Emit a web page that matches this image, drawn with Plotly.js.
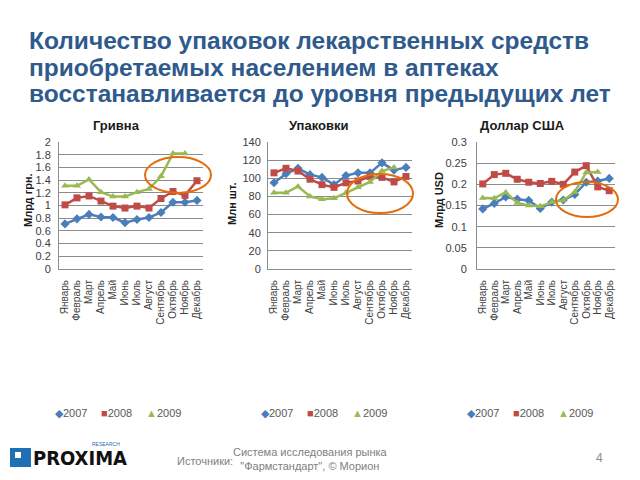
<!DOCTYPE html>
<html>
<head>
<meta charset="utf-8">
<script src="https://cdn.plot.ly/plotly-3.0.1.min.js"></script>
<style>
  html, body { margin: 0; padding: 0; background: #fff; }
  #chart { width: 640px; height: 480px; }
</style>
</head>
<body>
<div id="chart"></div>
<script>
// months and series
const months = ['Январь', 'Февраль', 'Март', 'Апрель', 'Май', 'Июнь', 'Июль', 'Август', 'Сентябрь', 'Октябрь', 'Ноябрь', 'Декабрь'];
const years = ['2007', '2008', '2009'];

// Гривна, млрд грн.
const uah2007 = [0.71, 0.79, 0.86, 0.82, 0.81, 0.73, 0.78, 0.81, 0.89, 1.05, 1.05, 1.08];
const uah2008 = [1.01, 1.12, 1.15, 1.07, 0.99, 0.96, 0.99, 0.96, 1.11, 1.22, 1.16, 1.39];
const uah2009 = [1.31, 1.31, 1.41, 1.21, 1.14, 1.14, 1.21, 1.26, 1.46, 1.82, 1.82];

// Упаковки, млн шт.
const pack2007 = [95, 105, 111, 104, 101, 93, 103, 106, 106, 117, 109, 112];
const pack2008 = [106, 111, 108, 99, 93, 90, 95, 97, 102, 101, 96, 102];
const pack2009 = [84, 84, 91, 80, 77, 78, 84, 90, 96, 108, 112];

// Доллар США, млрд USD
const usd2007 = [0.142, 0.155, 0.170, 0.165, 0.162, 0.143, 0.158, 0.163, 0.176, 0.205, 0.208, 0.214];
const usd2008 = [0.201, 0.223, 0.226, 0.212, 0.205, 0.202, 0.207, 0.200, 0.229, 0.244, 0.194, 0.185];
const usd2009 = [0.168, 0.167, 0.181, 0.156, 0.150, 0.148, 0.158, 0.162, 0.182, 0.228, 0.229];

const titleLines = [
    'Количество упаковок лекарственных средств',
    'приобретаемых населением в аптеках',
    'восстанавливается до уровня предыдущих лет'
];

const colors = ['#4a7ebb', '#be4b48', '#98b954'];
const symbols = ['diamond', 'square', 'triangle-up'];
const legendGlyphs = ['◆', '■', '▲'];

const W = 640, H = 480;
const px = x => x / W;
const py = y => 1 - y / H;

const panels = [
    {title: 'Гривна', ytitle: 'Млрд грн.', series: [uah2007, uah2008, uah2009], range: [0, 2], dtick: 0.2,
     left: 59, right: 203, titleX: 116, ytitleX: 28, ytitleY: 200, legendX: 53, standoff: 5,
     ellipse: [145, 157, 211, 193]},
    {title: 'Упаковки', ytitle: 'Млн шт.', series: [pack2007, pack2008, pack2009], range: [0, 140], dtick: 20,
     left: 268, right: 412, titleX: 318, ytitleX: 232, ytitleY: 204, legendX: 259, standoff: 4,
     ellipse: [347, 174, 413, 213]},
    {title: 'Доллар США', ytitle: 'Млрд USD', series: [usd2007, usd2008, usd2009], range: [0, 0.3], dtick: 0.05,
     left: 477, right: 615, titleX: 522, ytitleX: 439, ytitleY: 200, legendX: 465, standoff: 7,
     ellipse: [556, 182, 618, 217]}
];

const plotTop = 142, plotBottom = 269;
const baseFont = 'Liberation Sans, Arial, sans-serif';

let data = [];
let layout = {
    width: W,
    height: H,
    margin: {l: 0, r: 0, t: 0, b: 0},
    paper_bgcolor: '#ffffff',
    plot_bgcolor: '#ffffff',
    showlegend: false,
    font: {family: baseFont, size: 11, color: '#404040'},
    annotations: [],
    shapes: []
};

panels.forEach((p, k) => {
    const sfx = k === 0 ? '' : String(k + 1);
    p.series.forEach((vals, j) => {
        data.push({
            x: months.slice(0, vals.length),
            y: vals,
            xaxis: 'x' + sfx,
            yaxis: 'y' + sfx,
            name: years[j],
            mode: 'lines+markers',
            line: {color: colors[j], width: 2.5},
            marker: {symbol: symbols[j], size: 7, color: colors[j]},
            hoverinfo: 'skip'
        });
    });

    layout['xaxis' + sfx] = {
        domain: [px(p.left), px(p.right)],
        anchor: 'y' + sfx,
        type: 'category',
        categoryarray: months,
        range: [-0.5, 11.5],
        tickmode: 'array',
        tickvals: months,
        ticktext: months,
        tickangle: -90,
        tickfont: {size: 10, color: '#404040'},
        showgrid: false,
        showline: true,
        linecolor: '#8c8c8c',
        linewidth: 1,
        ticks: '',
        ticklabelstandoff: 6,
        fixedrange: true
    };
    layout['yaxis' + sfx] = {
        domain: [py(plotBottom), py(plotTop)],
        anchor: 'x' + sfx,
        range: p.range,
        dtick: p.dtick,
        tick0: 0,
        gridcolor: '#8c8c8c',
        gridwidth: 1,
        showline: true,
        linecolor: '#8c8c8c',
        zeroline: false,
        ticks: '',
        tickfont: {size: 11, color: '#404040'},
        ticklabelstandoff: p.standoff,
        fixedrange: true
    };

    // panel title
    layout.annotations.push({
        text: '<b>' + p.title + '</b>', xref: 'paper', yref: 'paper',
        x: px(p.titleX), y: py(125), xanchor: 'center', yanchor: 'middle',
        showarrow: false, font: {size: 13, color: '#1a1a1a'}
    });
    // y axis title
    layout.annotations.push({
        text: '<b>' + p.ytitle + '</b>', xref: 'paper', yref: 'paper',
        x: px(p.ytitleX), y: py(p.ytitleY), xanchor: 'center', yanchor: 'middle',
        textangle: -90, showarrow: false, font: {size: 11, color: '#1a1a1a'}
    });
    // legend
    years.forEach((yr, j) => {
        layout.annotations.push({
            text: '<span style="color:' + colors[j] + '">' + legendGlyphs[j] + '</span>' + yr,
            xref: 'paper', yref: 'paper',
            x: px(p.legendX + j * 45.5), y: py(413), xanchor: 'left', yanchor: 'middle',
            showarrow: false, font: {size: 11, color: '#595959'}
        });
    });
    // orange highlight ellipse
    const e = p.ellipse;
    layout.shapes.push({
        type: 'circle', xref: 'paper', yref: 'paper',
        x0: px(e[0]), x1: px(e[2]), y0: py(e[3]), y1: py(e[1]),
        line: {color: '#e46c0a', width: 2}
    });
});

// slide title
titleLines.forEach((line, i) => {
    layout.annotations.push({
        text: '<b>' + line + '</b>', xref: 'paper', yref: 'paper',
        x: px(27), y: py(40 + i * 27), xanchor: 'left', yanchor: 'middle',
        showarrow: false, font: {size: 24.5, color: '#2f5a8c', family: baseFont}
    });
});

// footer
layout.annotations.push(
    {text: 'Источники:', xref: 'paper', yref: 'paper', x: px(175), y: py(461),
     xanchor: 'left', yanchor: 'middle', showarrow: false, font: {size: 11, color: '#808080'}},
    {text: 'Система исследования рынка<br>"Фармстандарт", © Морион', xref: 'paper', yref: 'paper',
     x: px(310), y: py(459), xanchor: 'center', yanchor: 'middle', showarrow: false,
     font: {size: 11, color: '#808080'}},
    {text: '4', xref: 'paper', yref: 'paper', x: px(599), y: py(458),
     xanchor: 'center', yanchor: 'middle', showarrow: false, font: {size: 12, color: '#8c8c8c'}},
    {text: '<b>PROXIMA</b>', xref: 'paper', yref: 'paper', x: px(31), y: py(458),
     xanchor: 'left', yanchor: 'middle', showarrow: false,
     font: {size: 20, color: '#111111', family: 'DejaVu Sans Condensed, Liberation Sans Narrow, sans-serif'}},
    {text: 'RESEARCH', xref: 'paper', yref: 'paper', x: px(90), y: py(444),
     xanchor: 'left', yanchor: 'middle', showarrow: false, font: {size: 5, color: '#1f6fb5'}}
);
layout.shapes.push(
    {type: 'rect', xref: 'paper', yref: 'paper', x0: px(10), x1: px(31), y0: py(467), y1: py(448),
     fillcolor: '#1f6fb5', line: {width: 0}},
    {type: 'rect', xref: 'paper', yref: 'paper', x0: px(15), x1: px(21), y0: py(458), y1: py(452),
     fillcolor: '#ffffff', line: {width: 0}}
);

Plotly.newPlot('chart', data, layout, {displayModeBar: false, staticPlot: true});
</script>
</body>
</html>
